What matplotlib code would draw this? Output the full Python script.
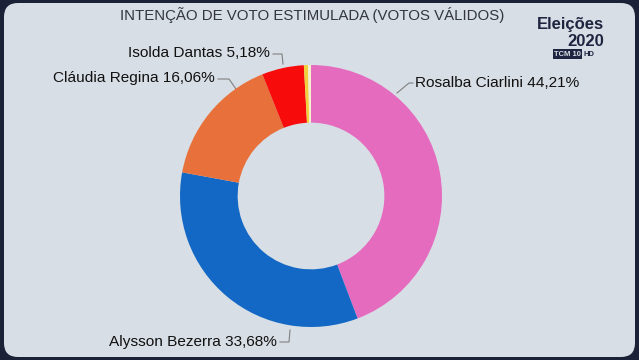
import matplotlib.pyplot as plt
from matplotlib.patches import FancyBboxPatch

# data
candidates = ['Rosalba Ciarlini', 'Alysson Bezerra', 'Cláudia Regina', 'Isolda Dantas', 'Outros 1', 'Outros 2']
shares = [44.21, 33.68, 16.06, 5.18, 0.50, 0.37]
colors = ['#e56bbf', '#1268c4', '#e8703a', '#f70b0b', '#f2cf3c', '#f6f0cf']
label_texts = ['Rosalba Ciarlini 44,21%', 'Alysson Bezerra 33,68%',
               'Cláudia Regina 16,06%', 'Isolda Dantas 5,18%']

W, H = 639, 360
fig = plt.figure(figsize=(W / 100, H / 100), dpi=100)
fig.patch.set_facecolor('#1b2136')

# light panel with rounded corners
bg = fig.add_axes([0, 0, 1, 1])
bg.set_xlim(0, W)
bg.set_ylim(H, 0)
bg.axis('off')
bg.add_patch(FancyBboxPatch((4, 3), W - 8, H - 6, boxstyle='round,pad=0,rounding_size=14',
                            facecolor='#d8dee5', edgecolor='none'))

# donut centre and radius in pixels
cx, cy, r = 311, 196, 131
ax = fig.add_axes([(cx - r) / W, (H - cy - r) / H, 2 * r / W, 2 * r / H])
ax.pie(shares, colors=colors, startangle=90, counterclock=False, radius=1,
       wedgeprops=dict(width=0.44, edgecolor='none'))
ax.set_xlim(-1, 1)
ax.set_ylim(-1, 1)
ax.set_aspect('auto')
ax.axis('off')

font = 'Liberation Sans'

# title and logo (pixel coordinates on the background axes)
bg.text(312, 15, 'INTENÇÃO DE VOTO ESTIMULADA (VOTOS VÁLIDOS)', ha='center', va='center',
        fontsize=10.8, color='#33363d', family=font)
bg.text(604, 25, 'Eleições', ha='right', va='center', fontsize=12, fontweight='bold',
        color='#1d2540', family=font)
bg.text(604, 42, '2020', ha='right', va='center', fontsize=12, fontweight='bold',
        color='#1d2540', family=font)
bg.text(581, 54, 'TCM 10', ha='right', va='center', fontsize=5.5, fontweight='bold',
        color='#d8dee5', family=font,
        bbox=dict(boxstyle='square,pad=0.15', facecolor='#1d2540', edgecolor='none'))
bg.text(583, 54, 'HD', ha='left', va='center', fontsize=5.5, fontweight='bold',
        color='#1d2540', family=font)

# labels with leader lines (pixel positions)
label_pos = [(415, 83, 'left'), (277, 342, 'right'), (215, 78, 'right'), (270, 53, 'right')]
leaders = [
    [(397, 93), (409, 83), (413, 83)],
    [(290, 330), (289, 342), (280, 342)],
    [(236, 89), (229, 79), (218, 79)],
    [(283, 64), (282, 54), (273, 54)],
]
for (x, y, ha), text, pts in zip(label_pos, label_texts, leaders):
    bg.text(x, y, text, ha=ha, va='center', fontsize=11.1, color='#111111', family=font)
    bg.plot([p[0] for p in pts], [p[1] for p in pts], color='#808080', lw=0.8)

fig.savefig('out.png', dpi=100, facecolor=fig.get_facecolor())
